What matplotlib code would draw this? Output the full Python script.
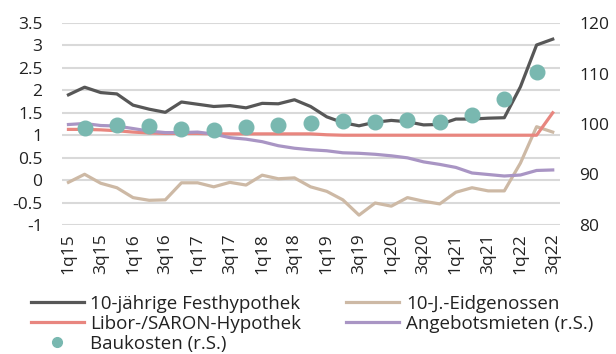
import matplotlib
matplotlib.use("Agg")
import matplotlib.pyplot as plt
from matplotlib.lines import Line2D

plt.rcParams['font.family'] = ['Open Sans', 'DejaVu Sans']

# Quarterly observations 1q15 .. 3q22
quarters = [f"{q}q{y:02d}" for y in range(15, 23) for q in range(1, 5)][:31]
tick_labels = ["1q15", "3q15", "1q16", "3q16", "1q17", "3q17", "1q18", "3q18",
               "1q19", "3q19", "1q20", "3q20", "1q21", "3q21", "1q22", "3q22"]

festhypothek = [1.90, 2.07, 1.95, 1.92, 1.67, 1.58, 1.51, 1.74, 1.69, 1.64,
                1.66, 1.61, 1.71, 1.70, 1.79, 1.64, 1.41, 1.28, 1.21, 1.29,
                1.33, 1.30, 1.23, 1.24, 1.36, 1.36, 1.38, 1.39, 2.08, 3.01, 3.14]
eidgenossen = [-0.05, 0.13, -0.07, -0.17, -0.39, -0.45, -0.44, -0.06, -0.06, -0.15,
               -0.05, -0.11, 0.11, 0.03, 0.05, -0.15, -0.25, -0.44, -0.78, -0.51,
               -0.58, -0.39, -0.47, -0.53, -0.27, -0.17, -0.24, -0.24, 0.38, 1.19, 1.07]
saron = [1.13, 1.13, 1.12, 1.10, 1.07, 1.05, 1.04, 1.04, 1.04, 1.03,
         1.03, 1.03, 1.03, 1.03, 1.03, 1.03, 1.01, 1.00, 1.00, 1.00,
         1.00, 1.00, 1.00, 1.00, 1.00, 1.00, 1.00, 1.00, 1.00, 1.00, 1.50]
angebotsmieten = [99.9, 100.1, 99.7, 99.6, 99.1, 98.6, 98.3, 98.3, 98.4, 98.0,
                  97.3, 97.0, 96.5, 95.7, 95.2, 94.9, 94.7, 94.3, 94.2, 94.0,
                  93.7, 93.3, 92.5, 92.0, 91.4, 90.3, 90.0, 89.7, 89.9, 90.8, 90.9]
bau_quarters = ["2q15", "4q15", "2q16", "4q16", "2q17", "4q17", "2q18", "4q18",
                "2q19", "4q19", "2q20", "4q20", "2q21", "4q21", "2q22"]
baukosten = [99.3, 99.8, 99.6, 99.1, 98.9, 99.5, 99.8, 100.1,
             100.5, 100.3, 100.7, 100.4, 101.8, 105.0, 110.2]

C_FEST = "#575757"
C_EIDG = "#cdb9a5"
C_SARON = "#e8867f"
C_MIET = "#a995c4"
C_BAU = "#79b8b0"
TXT = "#222222"
FS = 12.5
FS_LEG = 13.5

x = list(range(len(quarters)))
xb = [quarters.index(q) for q in bau_quarters]

fig = plt.figure(figsize=(6.16, 3.54), dpi=100)
ax = fig.add_axes([62 / 616, 1 - 225 / 354, (560 - 62) / 616, (225 - 23) / 354])
ax2 = ax.twinx()

ax.set_ylim(-1, 3.5)
ax2.set_ylim(80, 120)
ax.set_xlim(-0.4, 30.45)

yt = [-1, -0.5, 0, 0.5, 1, 1.5, 2, 2.5, 3, 3.5]
ax.set_yticks(yt)
ax.set_yticklabels([f"{v:g}" for v in yt])
ax2.set_yticks([80, 90, 100, 110, 120])
ax.set_xticks([quarters.index(t) for t in tick_labels])
ax.set_xticklabels(tick_labels, rotation=90)

ax.grid(axis='y', color="#d9d9d9", lw=1.5)
ax.set_axisbelow(True)
for a in (ax, ax2):
    for s in a.spines.values():
        s.set_visible(False)
    a.tick_params(length=0, labelsize=FS, colors=TXT)
ax.tick_params(axis='y', pad=14)
ax.tick_params(axis='x', pad=6)
ax2.tick_params(axis='y', pad=14)

lw = 2.3
ax.plot(x, eidgenossen, color=C_EIDG, lw=lw, zorder=2)
ax2.plot(x, angebotsmieten, color=C_MIET, lw=lw, zorder=2)
ax.plot(x, saron, color=C_SARON, lw=lw, zorder=3)
ax.plot(x, festhypothek, color=C_FEST, lw=lw, zorder=3)
ax2.plot(xb, baukosten, ls='none', marker='o', ms=10.5, color=C_BAU, zorder=4)
ax2.set_zorder(ax.get_zorder() + 1)

handles = [
    Line2D([], [], color=C_FEST, lw=lw),
    Line2D([], [], color=C_SARON, lw=lw),
    Line2D([], [], ls='none', marker='o', ms=7, color=C_BAU),
    Line2D([], [], color=C_EIDG, lw=lw),
    Line2D([], [], color=C_MIET, lw=lw),
]
labels = ["10-jährige Festhypothek", "Libor-/SARON-Hypothek", "Baukosten (r.S.)",
          "10-J.-Eidgenossen", "Angebotsmieten (r.S.)"]
fig.legend(handles, labels, loc='lower left', bbox_to_anchor=(31 / 616, 0.004),
           ncol=2, frameon=False, fontsize=FS_LEG, handlelength=2.8, handletextpad=0.37,
           labelspacing=0.1, columnspacing=2.4, borderpad=0.0, borderaxespad=0.0,
           labelcolor=TXT)

fig.savefig("out.png", dpi=100)
